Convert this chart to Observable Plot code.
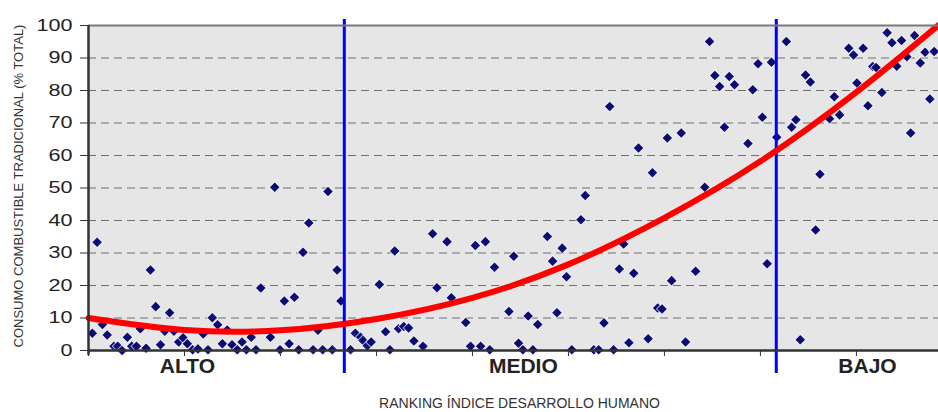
<!DOCTYPE html>
<html><head><meta charset="utf-8">
<script src="https://cdn.jsdelivr.net/npm/d3@7"></script>
<script src="https://cdn.jsdelivr.net/npm/@observablehq/plot@0.6"></script>
<style>
body{margin:0;background:#fff;}
#chart svg{display:block;}
</style></head><body><div id="chart"></div>
<script>
// Ranking (índice de desarrollo humano) of each country shown
const ranking = [
  0.8,1.8,2.9,3.9,5.3,6.1,7.0,8.1,9.0,10.0,10.8,12.0,12.9,14.0,15.0,15.9,16.9,17.8,18.8,19.7,
  20.6,21.7,22.8,23.9,24.9,25.8,26.9,27.9,28.9,29.9,31.0,32.0,32.9,33.9,34.9,35.9,37.9,38.8,39.9,40.8,
  41.8,42.9,43.8,44.7,45.9,46.8,47.8,48.8,49.9,50.8,51.8,52.6,
  54.6,55.6,56.7,57.2,58.1,58.9,60.6,61.9,62.8,63.8,64.6,65.7,66.7,67.8,69.7,71.7,72.6,74.7,
  75.6,78.6,79.6,80.6,81.7,82.7,83.6,84.6,87.6,88.6,89.6,90.5,91.6,92.6,93.6,95.6,96.7,97.6,98.7,99.6,
  100.7,102.6,103.5,105.3,106.3,107.4,108.6,109.4,110.6,111.5,112.6,113.6,114.6,116.6,117.5,118.6,119.5,120.6,121.5,123.5,
  124.4,126.5,128.4,129.4,130.5,131.5,132.5,133.5,134.6,137.4,138.4,139.5,140.4,141.4,142.3,
  143.4,145.4,146.5,147.4,148.3,149.4,150.4,151.5,152.4,154.4,155.4,156.5,158.4,159.4,160.1,161.4,162.4,163.4,164.1,165.3,
  166.4,167.4,168.4,169.4,170.5,171.3,172.1,173.3,174.3,175.3,176.2
];
// Consumo de combustible tradicional (% del total)
const consumo = [
  5.3,33.3,8.0,4.8,1.3,1.3,0,4.1,1.3,1.3,6.7,0.7,24.8,13.5,1.8,5.9,11.6,5.9,2.6,3.9,
  2.1,0.2,0.5,5.1,0.2,10.1,7.9,2.1,6.3,1.8,0.2,2.6,0.2,4.1,0.2,19.2,4.1,50.2,0.2,15.2,
  2.1,16.4,0.2,30.2,39.2,0.2,6.2,0.2,48.9,0.2,24.8,15.2,
  0.2,5.3,4.1,3.1,1.5,2.6,20.3,5.8,0.2,30.6,6.7,7.4,6.9,2.9,1.3,35.9,19.3,33.5,
  16.2,8.6,1.3,32.3,1.3,33.5,0.2,25.6,12.0,29.0,2.2,0.2,10.6,0.2,8.0,35.1,27.5,11.6,31.5,22.7,
  0.2,40.2,47.7,0.2,0.2,8.5,75.1,0.2,25.1,32.8,2.4,23.8,62.3,3.6,54.7,13.1,12.8,65.4,21.5,66.9,
  2.6,24.4,50.2,95.1,84.6,81.2,68.7,84.3,81.8,63.7,80.2,88.2,71.8,26.7,88.7,
  65.6,95.1,68.7,71.0,3.3,84.8,82.6,37.1,54.2,71.3,78.1,72.5,93.0,90.9,82.3,93.0,75.3,87.4,87.1,79.4,
  97.8,94.7,87.5,95.4,90.4,66.9,96.9,88.5,91.8,77.4,92.0
];
// Línea de tendencia
const trendRank = [0, 20, 40, 60, 80, 100, 120, 140, 160, 177];
const trendValue = [10, 6.3, 6.2, 9.7, 16.2, 26.5, 40.8, 58.2, 79.5, 100];
// Grupos de desarrollo humano
const groupNames = ["ALTO", "MEDIO", "BAJO"];
const groupCenters = [20.6, 90.6, 162.3];
const groupBounds = [53.3, 143.3];
const yTicks = [0, 10, 20, 30, 40, 50, 60, 70, 80, 90, 100];
const xTicks = [0, 20, 40, 60, 80, 100, 120, 140, 160];
const yTitle = "CONSUMO COMBUSTIBLE TRADICIONAL (% TOTAL)";
const xTitle = "RANKING ÍNDICE DESARROLLO HUMANO";

const points = ranking.map((r, i) => ({r, v: consumo[i]}));
const trend = trendRank.map((r, i) => ({r, v: trendValue[i]}));
const groups = groupNames.map((name, i) => ({name, r: groupCenters[i]}));

const chart = Plot.plot({
  width: 938, height: 412,
  marginLeft: 88, marginRight: 0, marginTop: 25, marginBottom: 62,
  style: {fontFamily: "'Liberation Sans', Arial, sans-serif", background: "#fff", color: "#222"},
  x: {domain: [0, 177.1]},
  y: {domain: [0, 100]},
  marks: [
    Plot.frame({fill: "#e6e6e6", stroke: "none"}),
    Plot.ruleY(yTicks.filter(d => d > 0 && d < 100), {stroke: "#6e6e6e", strokeDasharray: "8,5", strokeWidth: 1}),
    Plot.dot(points, {x: "r", y: "v", symbol: "diamond2", r: 4.3, fill: "#0b0b72", stroke: "#f4f4ff", strokeWidth: 2, strokeOpacity: 0.7, paintOrder: "stroke"}),
    Plot.ruleX(groupBounds, {stroke: "#0000ff", strokeWidth: 3, insetTop: -6, insetBottom: -23}),
    Plot.line(trend, {x: "r", y: "v", curve: "natural", stroke: "#ff0000", strokeWidth: 6}),
    Plot.ruleY([100], {stroke: "#7a7a7a", strokeWidth: 2}),
    Plot.ruleY([0], {stroke: "#333", strokeWidth: 2.5}),
    Plot.ruleX([0], {stroke: "#333", strokeWidth: 2.5, insetBottom: -5}),
    Plot.axisY(yTicks, {tickSize: 8, tickPadding: 8, fontSize: 17, stroke: "#333", label: null}),
    Plot.axisX(xTicks, {tickSize: 6, tickFormat: () => "", stroke: "#333", label: null}),
    Plot.text(groups, {x: "r", text: "name", frameAnchor: "bottom", dy: 22, fontSize: 21, fontWeight: "bold", fill: "#222"}),
    Plot.text([yTitle], {frameAnchor: "left", textAnchor: "middle", rotate: -90, dx: -70, dy: -2, fontSize: 13, fill: "#333"}),
    Plot.text([xTitle], {frameAnchor: "bottom", dx: 6, dy: 57, fontSize: 14, fill: "#333"})
  ]
});

d3.select(chart).selectAll('g[aria-label="y-axis tick label"] text').each(function () {
  const n = this.textContent.length;
  this.setAttribute("textLength", n * 12);
  this.setAttribute("lengthAdjust", "spacingAndGlyphs");
});

document.getElementById("chart").appendChild(chart);
</script>
</body></html>
